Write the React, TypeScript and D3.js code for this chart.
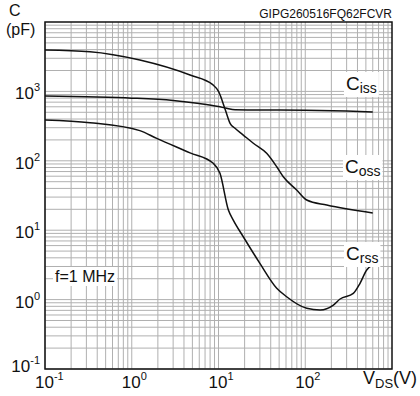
import React, { useEffect, useRef } from 'react';
import * as d3 from 'd3';

// capacitance vs drain-source voltage
const cissV = [0.1, 0.3, 1, 3, 6, 10, 12.4, 15.5, 30, 100, 300, 600];
const cissC = [860, 835, 800, 740, 670, 605, 570, 545, 540, 535, 520, 505];

const cossV = [0.1, 0.33, 1.24, 4.7, 8.65, 10, 12, 13.6, 15.5, 19.3, 25.2, 35.9, 46.9, 55.8, 79.6, 104, 177, 600];
const cossC = [3950, 3730, 2830, 1720, 1240, 1000, 540, 347, 294, 235, 179, 128, 82, 59, 38, 27.2, 23, 17.7];

const crssV = [0.1, 0.33, 1.24, 1.94, 4.7, 8.7, 10.4, 13, 14.8, 19.3, 30, 46.9, 61, 104, 148, 211, 252, 358, 428, 511, 598];
const crssC = [387, 354, 272, 210, 130, 92, 66, 19.5, 14, 8.05, 3.33, 1.46, 1.1, 0.75, 0.71, 0.835, 1.02, 1.23, 1.72, 2.67, 3.16];

const xTickExp = [-1, 0, 1, 2];
const yTickExp = [-1, 0, 1, 2, 3];
const partNo = 'GIPG260516FQ62FCVR';

const FONT = '"Liberation Sans", Arial, sans-serif';

const App = () => {
    const ref = useRef(null);

    useEffect(() => {
        const margin = { top: 22, left: 45, right: 28, bottom: 27 };
        const W = 420, H = 396;
        const width = W - margin.left - margin.right,
            height = H - margin.top - margin.bottom;

        const root = d3.select(ref.current);
        root.selectAll('*').remove();
        root.attr('width', W).attr('height', H);

        const x = d3.scaleLog().domain([0.1, 1000]).range([margin.left, margin.left + width]);
        const y = d3.scaleLog().domain([0.1, 10000]).range([margin.top + height, margin.top]);

        // grid
        const grid = root.append('g').attr('stroke', '#b0b0b0').attr('stroke-width', 1);
        const xs = [];
        for (let e = -1; e < 3; e++) for (let k = 1; k < 10; k++) xs.push(k * Math.pow(10, e));
        const ys = [];
        for (let e = -1; e < 4; e++) for (let k = 1; k < 10; k++) ys.push(k * Math.pow(10, e));
        grid.selectAll('.vx').data(xs).enter().append('line')
            .attr('x1', d => x(d)).attr('x2', d => x(d))
            .attr('y1', margin.top).attr('y2', margin.top + height);
        grid.selectAll('.hy').data(ys).enter().append('line')
            .attr('y1', d => y(d)).attr('y2', d => y(d))
            .attr('x1', margin.left).attr('x2', margin.left + width);

        // frame
        root.append('rect')
            .attr('x', margin.left).attr('y', margin.top)
            .attr('width', width).attr('height', height)
            .attr('fill', 'none').attr('stroke', '#111').attr('stroke-width', 1.5);

        // curves
        const line = d3.line().x(d => x(d[0])).y(d => y(d[1])).curve(d3.curveMonotoneX);
        [[cissV, cissC], [cossV, cossC], [crssV, crssC]].forEach(([vs, cs]) => {
            root.append('path')
                .attr('d', line(vs.map((v, i) => [v, cs[i]])))
                .attr('fill', 'none').attr('stroke', '#111').attr('stroke-width', 1.5);
        });

        // labels with white boxes
        const boxLabel = (px, py, main, sub, size, subSize) => {
            const g = root.append('g');
            const rect = g.append('rect').attr('fill', '#fff');
            const t = g.append('text').attr('x', px).attr('y', py)
                .attr('font-family', FONT).attr('font-size', size).attr('fill', '#111');
            t.append('tspan').text(main);
            if (sub) t.append('tspan').attr('dy', 3).attr('font-size', subSize).text(sub);
            const b = t.node().getBBox();
            rect.attr('x', b.x - 2).attr('y', b.y - 1).attr('width', b.width + 4).attr('height', b.height + 2);
        };
        boxLabel(346, 90, 'C', 'iss', 19, 14);
        boxLabel(345, 173, 'C', 'oss', 19, 14);
        boxLabel(346, 260, 'C', 'rss', 19, 14);
        boxLabel(55, 282, 'f=1 MHz', null, 16, 0);

        // y tick labels
        yTickExp.forEach(e => {
            const t = root.append('text')
                .attr('x', 40).attr('y', e === -1 ? 372 : y(Math.pow(10, e)) + 8)
                .attr('text-anchor', 'end')
                .attr('font-family', FONT).attr('font-size', 17).attr('fill', '#111');
            t.append('tspan').text('10');
            t.append('tspan').attr('dy', -8).attr('font-size', 11).text(e < 0 ? '-' + (-e) : e);
        });

        // x tick labels
        xTickExp.forEach(e => {
            const t = root.append('text')
                .attr('x', x(Math.pow(10, e)) - 10).attr('y', 388)
                .attr('font-family', FONT).attr('font-size', 17).attr('fill', '#111');
            t.append('tspan').text('10');
            t.append('tspan').attr('dy', -8).attr('font-size', 11).text(e < 0 ? '-' + (-e) : e);
        });

        // axis titles
        const vt = root.append('text').attr('x', 363).attr('y', 384)
            .attr('font-family', FONT).attr('font-size', 18).attr('fill', '#111');
        vt.append('tspan').text('V');
        vt.append('tspan').attr('dy', 4).attr('font-size', 13).text('DS');
        vt.append('tspan').attr('dy', -4).text('(V)');

        root.append('text').attr('x', 9).attr('y', 16)
            .attr('font-family', FONT).attr('font-size', 16).attr('fill', '#111').text('C');
        root.append('text').attr('x', 6).attr('y', 35)
            .attr('font-family', FONT).attr('font-size', 16).attr('fill', '#111').text('(pF)');

        root.append('text').attr('x', 392).attr('y', 18).attr('text-anchor', 'end')
            .attr('font-family', FONT).attr('font-size', 12).attr('fill', '#111').text(partNo);
    }, []);

    return <svg ref={ref} style={{ position: 'absolute', left: 0, top: 0, background: '#fff' }} />;
};

export default App;
